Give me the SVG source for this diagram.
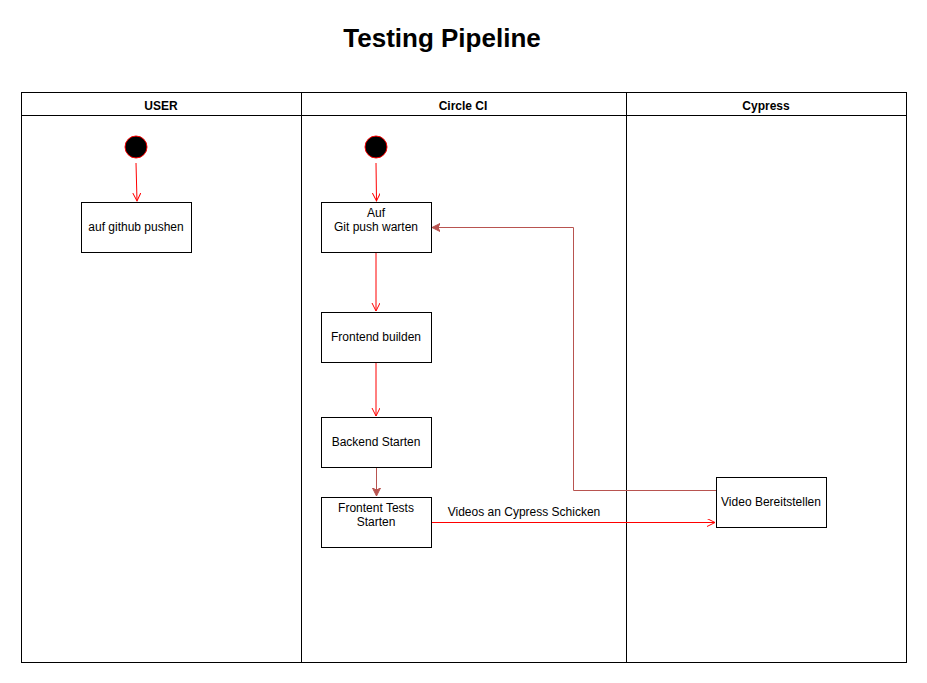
<svg xmlns="http://www.w3.org/2000/svg" width="927" height="683" viewBox="0 0 927 683">
<style>
text{font-family:"Liberation Sans",Arial,sans-serif;fill:#000}
.lane{fill:none;stroke:#000;stroke-width:1}
.hdr{font-size:12px;font-weight:bold;text-anchor:middle}
.box{fill:#fff;stroke:#000;stroke-width:1}
.lbl{font-size:12px;text-anchor:middle}
.start{fill:#000;stroke:#ff0000;stroke-width:1}
.red{fill:none;stroke:#ff0000;stroke-width:1}
.dred{fill:none;stroke:#b85450;stroke-width:1}
</style>
<defs>
<marker id="open" markerWidth="10" markerHeight="10" refX="8" refY="4" orient="auto" markerUnits="userSpaceOnUse">
<path d="M0,0 L8,4 L0,8" fill="none" stroke="#ff0000" stroke-width="1"/>
</marker>
<marker id="fill" markerWidth="10" markerHeight="10" refX="8" refY="4" orient="auto" markerUnits="userSpaceOnUse">
<path d="M0,0 L8,4 L0,8 L2,4 Z" fill="#b85450" stroke="#b85450" stroke-width="1"/>
</marker>
</defs>
<rect width="927" height="683" fill="#fff"/>
<text x="442" y="47" font-size="26" font-weight="bold" text-anchor="middle">Testing Pipeline</text>
<g id="lanes">
<rect class="lane" x="21.5" y="92.5" width="885" height="570"/>
<line class="lane" x1="21.5" y1="115.5" x2="906.5" y2="115.5"/>
<line class="lane" x1="301.5" y1="92.5" x2="301.5" y2="662.5"/>
<line class="lane" x1="626.5" y1="92.5" x2="626.5" y2="662.5"/>
<text class="hdr" x="161" y="110">USER</text>
<text class="hdr" x="463" y="110">Circle CI</text>
<text class="hdr" x="766" y="110">Cypress</text>
</g>
<g id="connectors">
<line class="red" x1="136" y1="163" x2="137" y2="201" marker-end="url(#open)"/>
<line class="red" x1="376" y1="163" x2="376.5" y2="201" marker-end="url(#open)"/>
<line class="red" x1="376" y1="252" x2="376" y2="311" marker-end="url(#open)"/>
<line class="red" x1="376" y1="362" x2="376" y2="416" marker-end="url(#open)"/>
<line class="dred" x1="376.5" y1="467" x2="376.5" y2="496" marker-end="url(#fill)"/>
<line class="red" x1="431" y1="522.5" x2="715" y2="522.5" marker-end="url(#open)"/>
<text class="lbl" x="524" y="516">Videos an Cypress Schicken</text>
<polyline class="dred" points="716,490.5 573.5,490.5 573.5,227.5 432,227.5" marker-end="url(#fill)"/>
</g>
<g id="start-user"><circle class="start" cx="136" cy="147" r="11"/></g>
<g id="start-ci"><circle class="start" cx="376" cy="147" r="11"/></g>
<g id="github-push">
<rect class="box" x="81.5" y="202.5" width="110" height="50"/>
<text class="lbl" x="136" y="231">auf github pushen</text>
</g>
<g id="wait-push">
<rect class="box" x="321.5" y="202.5" width="110" height="50"/>
<text class="lbl" x="376" y="217">Auf</text>
<text class="lbl" x="376" y="231">Git push warten</text>
</g>
<g id="frontend-build">
<rect class="box" x="321.5" y="312.5" width="110" height="50"/>
<text class="lbl" x="376" y="341">Frontend builden</text>
</g>
<g id="backend-start">
<rect class="box" x="321.5" y="417.5" width="110" height="50"/>
<text class="lbl" x="376" y="446">Backend Starten</text>
</g>
<g id="frontend-tests">
<rect class="box" x="321.5" y="497.5" width="110" height="50"/>
<text class="lbl" x="376" y="512">Frontent Tests</text>
<text class="lbl" x="376" y="526">Starten</text>
</g>
<g id="video">
<rect class="box" x="716.5" y="477.5" width="110" height="50"/>
<text class="lbl" x="771" y="506">Video Bereitstellen</text>
</g>
</svg>
